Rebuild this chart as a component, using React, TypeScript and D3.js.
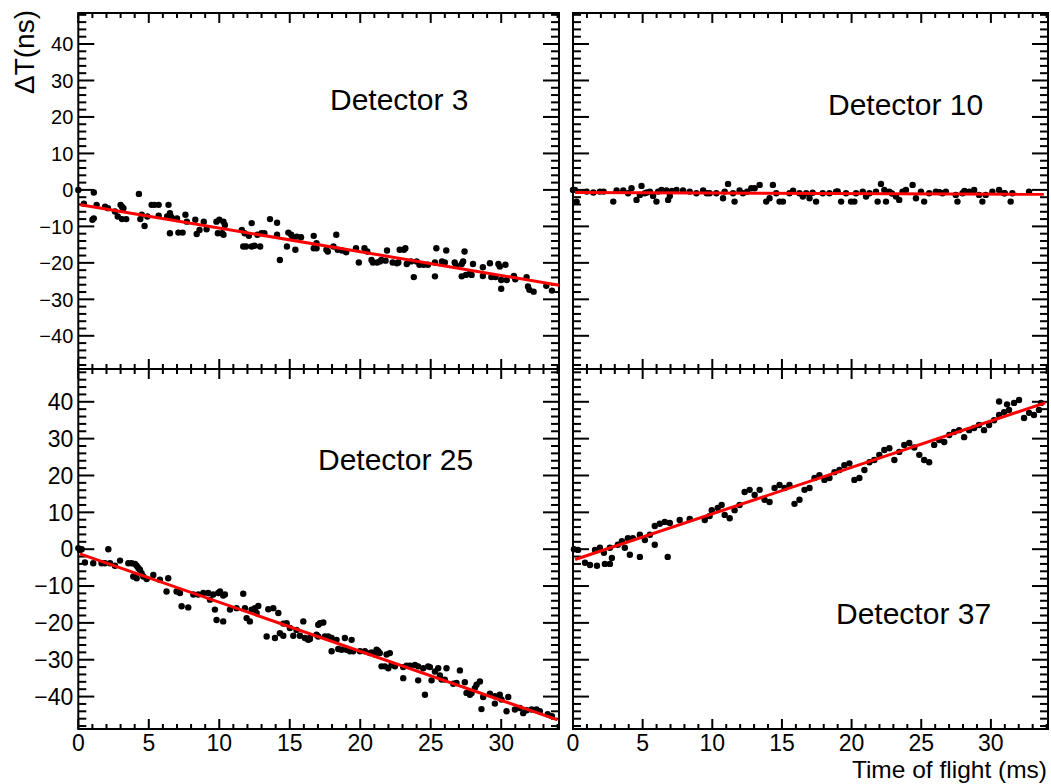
import React from "react";
import * as d3 from "d3";

// ---------- data ----------
const panelLabels = ["Detector 3", "Detector 10", "Detector 25", "Detector 37"];
const xTicks = [0, 5, 10, 15, 20, 25, 30];
const yTicks = [-40, -30, -20, -10, 0, 10, 20, 30, 40];
const xDomain = [0, 34.1];
const yDomainTop = [-49.1, 48.5];
const yDomainBottom = [-48.8, 48.9];

const fitIntercept = [-3.95, -0.73, -1.1, -3.0];
const fitSlope = [-0.65, -0.0137, -1.33, 1.26];
const fitStart = [0.15, 0.15, 0.12, 0.15];
const fitEnd = [34.1, 33.8, 34.0, 33.9];

const det3X = [0, 1.1, 0.4, 1.0, 1.1, 1.3, 1.9, 2.1, 2.6, 3.0, 3.1, 3.2, 2.8, 3.1, 3.4, 4.3, 4.4, 4.7, 4.5, 4.9, 5.2, 5.4, 5.7, 5.7, 6.4, 6.3, 6.5, 6.6, 6.5, 7.0, 7.1, 7.4, 7.6, 7.7, 8.3, 8.4, 8.6, 8.9, 9.1, 9.8, 10.0, 10.3, 10.4, 9.9, 10.2, 10.3, 11.6, 11.8, 12.3, 12.1, 11.7, 11.9, 12.3, 12.5, 12.9, 12.7, 13.0, 13.2, 13.6, 14.1, 14.1, 14.3, 14.8, 14.9, 15.1, 15.2, 15.4, 15.5, 15.8, 16.8, 16.9, 16.7, 16.7, 16.9, 17.6, 17.7, 18.1, 18.3, 18.4, 18.7, 19.0, 19.7, 19.9, 20.3, 20.5, 20.8, 20.9, 21.2, 21.4, 21.5, 21.9, 21.8, 22.3, 22.6, 22.8, 23.1, 23.2, 22.7, 23.3, 23.6, 23.8, 24.0, 24.2, 24.5, 24.8, 25.3, 25.4, 25.3, 25.8, 26.0, 26.1, 26.7, 26.8, 27.2, 27.3, 27.4, 27.2, 27.5, 27.8, 28.0, 27.9, 28.7, 28.7, 29.2, 29.3, 29.6, 29.8, 29.9, 30.3, 30.0, 30.0, 30.4, 30.9, 31.0, 31.8, 31.9, 32.0, 32.3, 33.2, 33.6];
const det3Y = [0, -0.7, -3.8, -8.2, -7.8, -4.1, -4.6, -5.0, -5.9, -4.1, -4.6, -5.0, -7.3, -8.0, -8.0, -1.1, -8.0, -9.9, -6.8, -7.3, -4.1, -4.1, -4.1, -7.1, -4.1, -7.3, -6.4, -7.5, -11.9, -7.8, -11.7, -11.7, -6.8, -8.7, -8.2, -12.1, -11.0, -8.7, -10.8, -8.7, -8.2, -8.7, -9.6, -11.9, -11.9, -12.3, -11.0, -11.9, -9.1, -12.6, -15.5, -15.5, -15.5, -15.3, -15.5, -12.3, -11.9, -11.9, -8.0, -9.0, -12.3, -19.2, -15.5, -11.7, -12.3, -13.2, -16.4, -12.8, -13.0, -15.5, -14.6, -12.6, -16.0, -16.0, -16.4, -16.9, -15.5, -12.3, -16.4, -16.6, -17.1, -16.0, -19.9, -16.0, -16.9, -19.2, -19.9, -19.9, -19.6, -19.2, -16.6, -19.4, -19.9, -20.1, -16.4, -16.4, -16.0, -19.9, -20.3, -19.6, -23.9, -19.6, -20.5, -20.5, -20.5, -19.9, -16.0, -23.7, -19.6, -19.9, -16.6, -19.9, -20.8, -20.3, -19.6, -16.9, -23.7, -23.3, -22.8, -20.3, -23.3, -21.2, -23.6, -20.1, -23.9, -23.9, -20.3, -21.0, -20.5, -24.7, -27.1, -24.7, -23.6, -24.5, -23.9, -26.5, -27.4, -27.9, -26.3, -27.6];

const det10X = [0, 0.14, 0.26, 0.98, 1.46, 1.93, 2.89, 3.13, 3.61, 3.96, 4.2, 4.56, 4.8, 4.92, 5.16, 5.52, 5.75, 5.99, 6.11, 6.35, 6.71, 6.83, 6.95, 7.43, 7.9, 8.38, 8.86, 9.34, 9.81, 10.29, 10.77, 10.89, 11.13, 11.49, 11.6, 11.96, 12.2, 12.8, 13.04, 13.4, 13.87, 14.11, 14.35, 14.59, 14.83, 15.07, 15.54, 16.26, 16.5, 16.74, 16.98, 17.45, 17.93, 18.41, 18.89, 19.25, 19.6, 19.96, 20.2, 20.32, 20.8, 21.04, 21.28, 21.75, 21.87, 22.11, 22.35, 22.47, 22.71, 23.19, 23.42, 23.66, 23.9, 24.38, 24.62, 24.98, 25.21, 25.57, 26.05, 26.53, 26.77, 27.48, 27.6, 27.96, 28.44, 28.8, 29.15, 29.39, 29.63, 30.11, 30.59, 30.95, 31.42, 31.54, 32.74, 2.2, 5.3, 7.1, 9.6, 12.5, 15.8, 17.2, 19.0, 22.9, 26.3, 28.1, 31.0];
const det10Y = [0, 0, -3.2, -0.46, -0.73, -0.46, -3.2, -0.18, -0.18, -0.91, 0.46, -2.74, -1.37, 1.1, -0.91, -0.46, -1.64, -3.2, -0.46, 0, -0.18, -2.74, -1.64, 0, -0.18, -0.46, -0.91, -0.18, -0.91, -0.91, -2.28, -0.46, 1.64, -0.91, -3.2, -0.18, -0.91, 0.46, 0.46, 1.37, -3.2, -2.28, 1.37, -0.91, -3.2, -3.2, -0.91, -0.91, -1.83, -0.91, -2.28, -3.2, -0.91, -0.91, -0.46, -3.2, -0.91, -3.2, -3.2, -0.91, -0.46, -1.83, -0.91, -0.46, -3.2, 1.64, 0, -3.2, -0.46, -1.83, -2.74, -0.46, 0, 1.37, -2.28, -0.46, -3.2, -0.91, -0.46, -0.91, -0.46, -1.37, -3.2, -0.91, -0.46, 0, -1.37, -3.2, -1.37, -0.46, 0, -0.91, -3.2, -0.91, -0.46, -0.46, -0.7, -0.3, -0.9, -0.5, -0.2, -0.8, -0.4, -1.0, -0.6, -0.3, -0.9];

const det25X = [0, 0.12, 0.24, 0.47, 1.06, 1.65, 1.89, 2.13, 2.25, 2.6, 2.96, 3.55, 3.78, 4.02, 4.14, 4.26, 3.9, 4.14, 4.37, 4.49, 4.61, 4.85, 5.32, 5.79, 6.38, 6.26, 6.97, 7.21, 7.33, 7.8, 8.16, 8.51, 8.87, 9.22, 9.34, 9.57, 9.69, 9.81, 9.93, 10.05, 10.28, 10.4, 10.28, 10.76, 11.23, 11.7, 11.82, 11.94, 12.17, 12.29, 12.53, 12.77, 12.65, 13.36, 13.48, 13.83, 13.95, 14.19, 14.3, 14.54, 14.54, 14.78, 15.01, 15.25, 15.48, 15.72, 15.96, 16.08, 16.31, 16.43, 17.02, 17.02, 16.43, 16.9, 17.14, 17.38, 17.49, 17.73, 17.97, 17.97, 18.32, 18.44, 18.68, 18.91, 19.03, 19.27, 19.39, 19.5, 19.98, 20.33, 20.68, 20.8, 21.04, 21.16, 21.28, 21.39, 21.51, 21.75, 21.87, 22.1, 21.99, 22.22, 22.46, 23.05, 23.05, 23.29, 23.52, 23.88, 24.11, 24.11, 24.47, 24.59, 24.82, 24.94, 25.06, 25.3, 25.53, 25.65, 25.77, 26.12, 26.0, 26.6, 26.83, 27.07, 27.42, 27.54, 27.78, 27.9, 28.13, 28.25, 28.49, 28.6, 28.72, 29.2, 29.55, 29.55, 29.79, 29.9, 30.02, 30.5, 30.38, 30.97, 31.32, 31.56, 31.8, 32.15, 32.5, 32.74, 33.3, 33.6];
const det25Y = [0.3, -0.2, 0, -3.6, -3.8, -3.8, -3.8, 0, -3.8, -4.5, -3.1, -3.8, -3.8, -4.0, -4.5, -5.1, -7.4, -7.9, -5.6, -6.5, -7.4, -8.1, -7.0, -8.3, -7.9, -11.5, -11.5, -11.9, -15.5, -15.8, -12.3, -12.3, -11.9, -11.9, -13.7, -12.3, -16.4, -19.2, -11.9, -11.5, -12.6, -12.3, -19.6, -16.4, -16.0, -12.1, -16.0, -18.7, -19.6, -16.4, -16.0, -15.4, -17.3, -23.7, -16.3, -16.0, -24.1, -17.3, -22.8, -20.2, -23.5, -20.1, -21.4, -23.5, -21.9, -23.5, -19.6, -24.1, -24.6, -24.1, -20.5, -23.7, -24.4, -23.2, -20.1, -19.9, -23.7, -23.7, -24.1, -27.7, -24.6, -27.1, -27.3, -24.1, -27.3, -27.7, -24.6, -27.7, -27.7, -27.7, -28.2, -28.0, -28.6, -27.3, -27.7, -28.2, -31.8, -31.8, -28.6, -28.2, -32.3, -31.4, -31.8, -32.0, -35.0, -31.6, -31.6, -31.4, -35.6, -31.8, -32.3, -39.5, -31.8, -32.0, -35.6, -33.2, -32.3, -34.3, -35.4, -32.3, -35.4, -36.5, -36.3, -32.9, -36.1, -39.0, -39.5, -39.0, -37.7, -36.8, -35.9, -43.4, -40.1, -39.2, -41.9, -39.9, -40.1, -39.5, -40.8, -40.1, -44.0, -43.5, -43.1, -44.5, -43.7, -43.5, -43.5, -44.0, -44.8, -45.3];

const det37X = [0.07, 0.36, 0.86, 1.22, 1.72, 2.29, 2.65, 1.58, 1.93, 2.22, 2.65, 3.22, 3.51, 3.94, 4.3, 4.8, 5.16, 5.52, 5.87, 2.79, 3.72, 4.08, 4.8, 5.87, 6.23, 6.59, 6.95, 7.66, 8.38, 6.8, 9.46, 9.81, 9.96, 10.39, 10.67, 10.89, 11.25, 11.6, 11.96, 12.32, 12.68, 13.04, 13.4, 13.75, 14.11, 14.47, 14.83, 15.19, 15.54, 15.9, 16.26, 16.62, 16.98, 17.34, 17.69, 18.05, 18.41, 18.77, 19.13, 19.48, 19.84, 20.2, 20.56, 20.92, 21.28, 21.63, 21.99, 22.35, 22.71, 23.07, 23.42, 23.78, 24.14, 24.5, 24.86, 25.21, 25.57, 25.93, 26.29, 26.65, 27.01, 27.36, 27.72, 28.08, 28.44, 28.8, 29.15, 29.51, 29.87, 30.23, 30.59, 30.95, 31.3, 31.66, 32.02, 32.38, 32.74, 33.09, 33.45, 33.6, 30.59, 31.16];
const det37Y = [0, -0.2, -3.7, -4.3, -4.5, -4.0, -4.0, -0.2, 0.4, -1.0, 0.4, 1.2, 2.2, 3.0, 3.0, 3.9, 2.5, 3.9, 1.2, -2.4, 0.4, -1.5, -2.1, 6.3, 6.9, 7.4, 7.1, 7.9, 8.2, -2.1, 7.9, 9.0, 10.6, 11.2, 12.0, 9.3, 8.4, 10.6, 12.0, 15.5, 16.1, 14.7, 16.1, 13.4, 12.8, 16.6, 17.4, 16.6, 17.4, 12.3, 13.4, 16.1, 16.6, 19.3, 20.1, 18.8, 19.3, 20.9, 21.5, 22.8, 23.3, 18.8, 19.3, 21.5, 23.6, 24.2, 25.6, 26.9, 27.4, 24.2, 26.4, 28.3, 28.8, 27.6, 25.6, 24.2, 23.6, 28.3, 29.6, 29.1, 31.0, 31.8, 32.3, 30.4, 32.3, 32.9, 33.7, 32.3, 33.7, 35.0, 36.4, 37.2, 37.8, 39.7, 40.5, 35.6, 37.0, 36.4, 37.8, 39.7, 40.1, 39.3];

const seriesX = [det3X, det10X, det25X, det37X];
const seriesY = [det3Y, det10Y, det25Y, det37Y];

// ---------- layout ----------
const W = 1051;
const H = 784;
const cols = [
  { x0: 78.3, x1: 559 },
  { x0: 573, x1: 1048 },
];
const rows = [
  { y0: 13, y1: 369, dom: yDomainTop, labelSize: 20 },
  { y0: 369, y1: 729, dom: yDomainBottom, labelSize: 23 },
];
const labelPos = [
  { x: 330, y: 110 },
  { x: 828, y: 115 },
  { x: 318, y: 470 },
  { x: 836, y: 624 },
];
const FONT = "'Liberation Sans', Arial, Helvetica, sans-serif";
const fmt = (v: number) => (v < 0 ? "\u2212" + Math.abs(v) : String(v));

function Panel({ idx }: { idx: number }) {
  const c = cols[idx % 2];
  const r = rows[Math.floor(idx / 2)];
  const xs = d3.scaleLinear().domain(xDomain).range([c.x0, c.x1]);
  const ys = d3.scaleLinear().domain(r.dom).range([r.y1, r.y0]);
  const xMinor = d3.range(0, 35, 1).filter((v) => v <= xDomain[1]);
  const yMinor = d3.range(-48, 49, 2);
  const xMajLen = 10, xMinLen = 5, yMajLen = 16, yMinLen = 8;
  const line = d3
    .line<number>()
    .x((v) => xs(v))
    .y((v) => ys(fitIntercept[idx] + fitSlope[idx] * v));
  const px = seriesX[idx];
  const py = seriesY[idx];
  const showYLabels = idx % 2 === 0;
  const showXLabels = idx >= 2;
  return (
    <g>
      {xMinor.map((v) => {
        const L = v % 5 === 0 ? xMajLen : xMinLen;
        const x = xs(v);
        return (
          <g key={"xt" + v}>
            <line x1={x} x2={x} y1={r.y1} y2={r.y1 - L} stroke="#000" strokeWidth={2} />
            <line x1={x} x2={x} y1={r.y0} y2={r.y0 + L} stroke="#000" strokeWidth={2} />
          </g>
        );
      })}
      {yMinor.map((v) => {
        const L = v % 10 === 0 ? yMajLen : yMinLen;
        const y = ys(v);
        if (y < r.y0 || y > r.y1) return null;
        return (
          <g key={"yt" + v}>
            <line x1={c.x0} x2={c.x0 + L} y1={y} y2={y} stroke="#000" strokeWidth={2} />
            <line x1={c.x1} x2={c.x1 - L} y1={y} y2={y} stroke="#000" strokeWidth={2} />
          </g>
        );
      })}
      <rect x={c.x0} y={r.y0} width={c.x1 - c.x0} height={r.y1 - r.y0} fill="none" stroke="#000" strokeWidth={2} />
      {px.map((v, i) => (
        <circle key={"p" + i} cx={xs(v)} cy={ys(py[i])} r={3.2} fill="#000" />
      ))}
      <path d={line([fitStart[idx], fitEnd[idx]]) || ""} stroke="#ff0000" strokeWidth={3} fill="none" />
      {showYLabels &&
        yTicks.map((v) => (
          <text key={"yl" + v} x={c.x0 - 5} y={ys(v)} dy="0.36em" textAnchor="end" fontSize={r.labelSize} fontFamily={FONT}>
            {fmt(v)}
          </text>
        ))}
      {showXLabels &&
        xTicks.map((v) => (
          <text key={"xl" + v} x={xs(v)} y={751} textAnchor="middle" fontSize={23} fontFamily={FONT}>
            {fmt(v)}
          </text>
        ))}
      <text x={labelPos[idx].x} y={labelPos[idx].y} fontSize={30} fontFamily={FONT}>
        {panelLabels[idx]}
      </text>
    </g>
  );
}

export default function App() {
  return (
    <svg width={W} height={H} style={{ position: "absolute", left: 0, top: 0, background: "#fff" }}>
      <rect x={0} y={0} width={W} height={H} fill="#fff" />
      {[0, 1, 2, 3].map((i) => (
        <Panel key={i} idx={i} />
      ))}
      <text transform="translate(34,10) rotate(-90)" textAnchor="end" fontSize={28} fontFamily={FONT}>
        {"\u0394T(ns)"}
      </text>
      <text x={1047} y={778} textAnchor="end" fontSize={24.5} fontFamily={FONT}>
        Time of flight (ms)
      </text>
    </svg>
  );
}
